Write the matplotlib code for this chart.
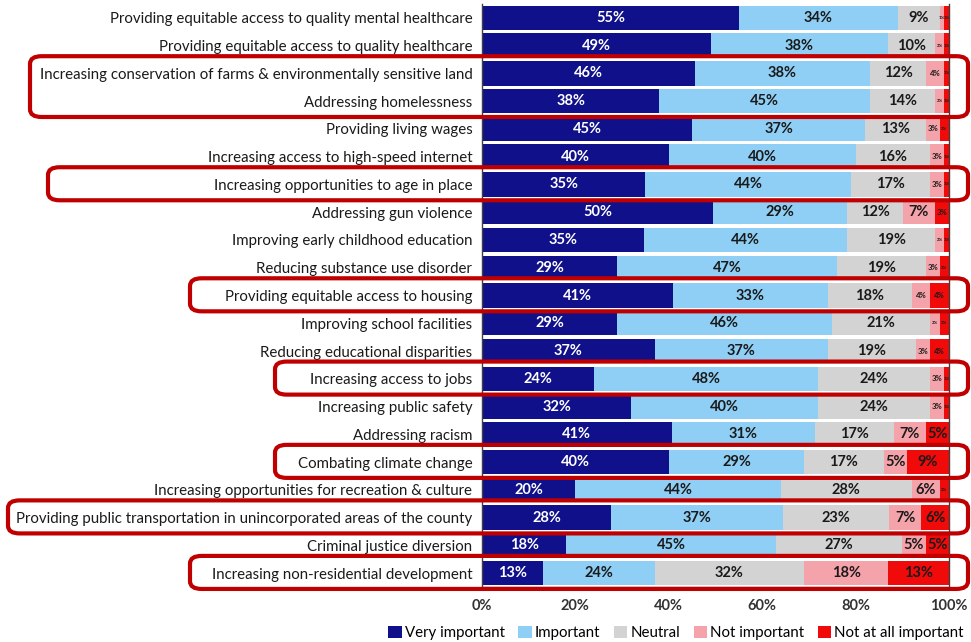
import numpy as np
import matplotlib
matplotlib.use('Agg')
import matplotlib.pyplot as plt
from matplotlib.patches import FancyBboxPatch, Patch

plt.rcParams['font.family'] = ['Lato', 'DejaVu Sans']

# survey issues, top to bottom
issues = [
    'Providing equitable access to quality mental healthcare',
    'Providing equitable access to quality healthcare',
    'Increasing conservation of farms & environmentally sensitive land',
    'Addressing homelessness',
    'Providing living wages',
    'Increasing access to high-speed internet',
    'Increasing opportunities to age in place',
    'Addressing gun violence',
    'Improving early childhood education',
    'Reducing substance use disorder',
    'Providing equitable access to housing',
    'Improving school facilities',
    'Reducing educational disparities',
    'Increasing access to jobs',
    'Increasing public safety',
    'Addressing racism',
    'Combating climate change',
    'Increasing opportunities for recreation & culture',
    'Providing public transportation in unincorporated areas of the county',
    'Criminal justice diversion',
    'Increasing non-residential development',
]

veryImportant = [55, 49, 46, 38, 45, 40, 35, 50, 35, 29, 41, 29, 37, 24, 32, 41, 40, 20, 28, 18, 13]
important     = [34, 38, 38, 45, 37, 40, 44, 29, 44, 47, 33, 46, 37, 48, 40, 31, 29, 44, 37, 45, 24]
neutral       = [9, 10, 12, 14, 13, 16, 17, 12, 19, 19, 18, 21, 19, 24, 24, 17, 17, 28, 23, 27, 32]
notImportant  = [1, 2, 4, 2, 3, 3, 3, 7, 2, 3, 4, 2, 3, 3, 3, 7, 5, 6, 7, 5, 18]
notAtAll      = [1, 1, 1, 1, 2, 1, 1, 3, 1, 2, 4, 2, 4, 1, 1, 5, 9, 2, 6, 5, 13]

seriesNames = ['Very important', 'Important', 'Neutral', 'Not important', 'Not at all important']
colours = ['#10108a', '#8fcff5', '#d3d3d3', '#f5a3aa', '#f00a0a']
textColours = ['white', '#1a1a1a', '#1a1a1a', '#1a1a1a', '#1a1a1a']

# rows highlighted with red boxes: (first row, last row, left edge of box in pixels)
highlighted = [(2, 3, 30), (6, 6, 48), (10, 10, 190), (13, 13, 275),
               (16, 16, 275), (18, 18, 8), (20, 20, 190)]

data = np.array([veryImportant, important, neutral, notImportant, notAtAll], dtype=float)
shares = data / data.sum(axis=0) * 100  # 100% stacked, like the original

fig = plt.figure(figsize=(9.71, 6.42), dpi=100)
ax = fig.add_axes([482/971, 1-587/642, (949-482)/971, 583/642])

ind = np.arange(len(issues))
left = np.zeros(len(issues))
for k in range(5):
    ax.barh(ind, shares[k], left=left, height=0.88, color=colours[k], label=seriesNames[k])
    for i in range(len(issues)):
        v = data[k, i]
        if v >= 5:
            fs = 10.5
        elif v >= 3:
            fs = 5.5
        else:
            fs = 3.2
        ax.text(left[i] + shares[k, i]/2, i, f'{int(v)}%', ha='center', va='center',
                fontsize=fs, fontweight='bold', color=textColours[k])
    left += shares[k]

ax.set_xlim(0, 100)
ax.set_ylim(len(issues)-0.5, -0.5)
ax.set_yticks(ind)
ax.set_yticklabels(issues, fontsize=10.8, color='#1a1a1a')
ax.set_xticks(np.arange(0, 101, 20))
ax.set_xticklabels([f'{x}%' for x in range(0, 101, 20)], fontsize=10.5, fontweight='bold', color='#333333')
ax.tick_params(axis='both', length=0)
ax.tick_params(axis='y', pad=7)
ax.tick_params(axis='x', pad=9)
ax.spines['top'].set_visible(False)
for s in ['left', 'bottom', 'right']:
    ax.spines[s].set_color('#404040')
    ax.spines[s].set_linewidth(1.0)

handles = [Patch(facecolor=c) for c in colours]
fig.legend(handles, seriesNames, loc='center', bbox_to_anchor=(676/971, 1-633/642), ncol=5,
           frameon=False, fontsize=10.8, handlelength=0.9, handleheight=0.9,
           handletextpad=0.2, columnspacing=0.9, borderaxespad=0)

# red rounded boxes around highlighted rows
for first, last, x0 in highlighted:
    x1 = 968
    yTop = ax.transData.transform((0, first - 0.62))[1]
    yBot = ax.transData.transform((0, last + 0.57))[1]
    box = FancyBboxPatch((x0/971, yBot/642), (x1-x0)/971, (yTop-yBot)/642,
                         boxstyle='round,pad=0,rounding_size=0.012',
                         transform=fig.transFigure, fill=False,
                         edgecolor='#c00000', linewidth=3, clip_on=False)
    fig.add_artist(box)

fig.savefig('out.png', dpi=100)
